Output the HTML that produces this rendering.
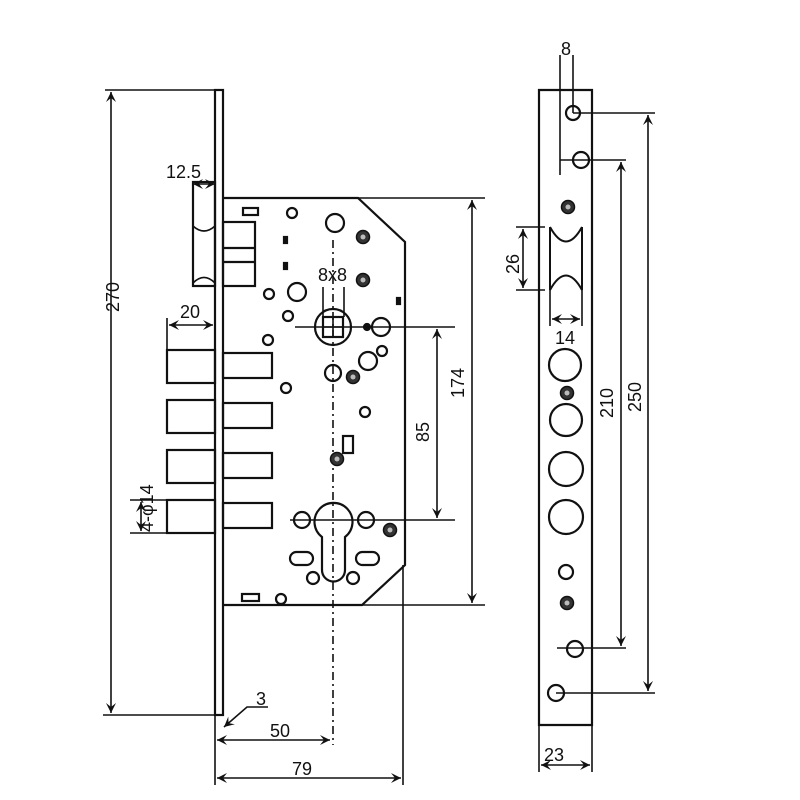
<!DOCTYPE html>
<html><head><meta charset="utf-8"><style>body{margin:0;background:#fff}svg{display:block}text{font-family:"Liberation Sans",sans-serif;font-size:18px;fill:#111}</style></head><body>
<svg width="800" height="800" viewBox="0 0 800 800" xmlns="http://www.w3.org/2000/svg">
<defs>
<marker id="a" viewBox="0 0 10 10" refX="10" refY="5" markerWidth="10" markerHeight="10" orient="auto-start-reverse" markerUnits="userSpaceOnUse"><path d="M0,0 L10,5 L0,10 L4,5 Z" fill="#111"/></marker>
<g id="st"><circle r="6.5" fill="#333" stroke="#111" stroke-width="1.5"/><circle r="2.5" fill="#bbb"/></g>
</defs>
<g fill="none" stroke="#111" stroke-width="2.2">
<rect x="215" y="90" width="8" height="625"/>
<path d="M223,198 H358 L405,242 V565 L362,605 H223"/>
<line x1="358" y1="198" x2="485" y2="198" stroke-width="1.6"/>
<line x1="362" y1="605" x2="485" y2="605" stroke-width="1.6"/>
<line x1="215" y1="715" x2="215" y2="785" stroke-width="1.6"/>
<line x1="403" y1="565" x2="403" y2="785" stroke-width="1.6"/>
<rect x="193" y="182" width="22" height="104"/>
<path d="M193,226 Q204,236 215,226 M193,283 Q204,272 215,283" stroke-width="1.6"/>
<rect x="223" y="222" width="32" height="64"/>
<line x1="223" y1="248" x2="255" y2="248"/><line x1="223" y1="262" x2="255" y2="262"/>
<rect x="243" y="208" width="15" height="7"/>
<rect x="167" y="350" width="48" height="33"/><rect x="223" y="353" width="49" height="25"/>
<rect x="167" y="400" width="48" height="33"/><rect x="223" y="403" width="49" height="25"/>
<rect x="167" y="450" width="48" height="33"/><rect x="223" y="453" width="49" height="25"/>
<rect x="167" y="500" width="48" height="33"/><rect x="223" y="503" width="49" height="25"/>
<line x1="167" y1="318" x2="167" y2="350" stroke-width="1.6"/>
<line x1="130" y1="500" x2="167" y2="500" stroke-width="1.6"/>
<line x1="130" y1="533" x2="167" y2="533" stroke-width="1.6"/>
<circle cx="292" cy="213" r="5"/><circle cx="335" cy="223" r="9"/>
<circle cx="269" cy="294" r="5"/><circle cx="297" cy="292" r="9"/><circle cx="288" cy="316" r="5"/>
<circle cx="268" cy="340" r="5"/><circle cx="382" cy="351" r="5"/><circle cx="368" cy="361" r="9"/>
<circle cx="333" cy="373" r="8"/><circle cx="286" cy="388" r="5"/><circle cx="365" cy="412" r="5"/>
<circle cx="381" cy="327" r="9"/><circle cx="367" cy="327" r="3" fill="#111"/>
<rect x="343" y="436" width="10" height="17"/>
<rect x="284" y="237" width="3" height="6" fill="#111"/><rect x="284" y="263" width="3" height="6" fill="#111"/>
<rect x="397" y="298" width="3" height="6" fill="#111"/>
<circle cx="333" cy="327" r="18"/><rect x="323" y="317" width="20" height="20"/>
<line x1="333" y1="317" x2="333" y2="337" stroke-width="1.6"/><line x1="323" y1="327" x2="343" y2="327" stroke-width="1.6"/>
<line x1="323" y1="287" x2="323" y2="317" stroke-width="1.6"/><line x1="344" y1="287" x2="344" y2="317" stroke-width="1.6"/>
<line x1="295" y1="327" x2="455" y2="327" stroke-width="1.6"/>
<path d="M322,537 A19,19 0 1 1 345,537 V570 A11.5,11.5 0 0 1 322,570 Z"/>
<circle cx="302" cy="520" r="8"/><circle cx="366" cy="520" r="8"/>
<rect x="290" y="552" width="23" height="13" rx="6.5"/><rect x="356" y="552" width="23" height="13" rx="6.5"/>
<circle cx="313" cy="578" r="6"/><circle cx="353" cy="578" r="6"/>
<line x1="290" y1="520" x2="455" y2="520" stroke-width="1.6"/>
<rect x="242" y="594" width="17" height="7"/><circle cx="281" cy="599" r="5"/>
<line x1="333" y1="240" x2="333" y2="745" stroke-width="1.6" stroke-dasharray="8,4,2,4"/>
<line x1="105" y1="90" x2="223" y2="90" stroke-width="1.6"/>
<line x1="103" y1="715" x2="218" y2="715" stroke-width="1.6"/>
<line x1="111" y1="92" x2="111" y2="713" stroke-width="1.6" marker-start="url(#a)" marker-end="url(#a)"/>
<line x1="193" y1="184" x2="215" y2="184" stroke-width="1.6" marker-start="url(#a)" marker-end="url(#a)"/>
<line x1="169" y1="325" x2="213" y2="325" stroke-width="1.6" marker-start="url(#a)" marker-end="url(#a)"/>
<line x1="141" y1="502" x2="141" y2="531" stroke-width="1.6" marker-start="url(#a)" marker-end="url(#a)"/>
<line x1="437" y1="329" x2="437" y2="518" stroke-width="1.6" marker-start="url(#a)" marker-end="url(#a)"/>
<line x1="472" y1="200" x2="472" y2="603" stroke-width="1.6" marker-start="url(#a)" marker-end="url(#a)"/>
<line x1="217" y1="740" x2="330" y2="740" stroke-width="1.6" marker-start="url(#a)" marker-end="url(#a)"/>
<line x1="217" y1="778" x2="401" y2="778" stroke-width="1.6" marker-start="url(#a)" marker-end="url(#a)"/>
<path d="M268,707 H247 L224,727" stroke-width="1.6" marker-end="url(#a)"/>
<path d="M539,725 V90 H592 V725 Z"/>
<line x1="539" y1="725" x2="539" y2="772" stroke-width="1.6"/><line x1="592" y1="725" x2="592" y2="772" stroke-width="1.6"/>
<line x1="541" y1="765" x2="590" y2="765" stroke-width="1.6" marker-start="url(#a)" marker-end="url(#a)"/>
<line x1="560" y1="55" x2="560" y2="175" stroke-width="1.6"/><line x1="573" y1="55" x2="573" y2="113" stroke-width="1.6"/>
<circle cx="573" cy="113" r="7"/><circle cx="581" cy="160" r="8"/>
<line x1="573" y1="113" x2="655" y2="113" stroke-width="1.6"/>
<line x1="560" y1="160" x2="626" y2="160" stroke-width="1.6"/>
<line x1="557" y1="648" x2="626" y2="648" stroke-width="1.6"/>
<line x1="556" y1="693" x2="655" y2="693" stroke-width="1.6"/>
<line x1="621" y1="162" x2="621" y2="646" stroke-width="1.6" marker-start="url(#a)" marker-end="url(#a)"/>
<line x1="648" y1="115" x2="648" y2="691" stroke-width="1.6" marker-start="url(#a)" marker-end="url(#a)"/>
<path d="M550,227 V290 M582,227 V290 M550,227 Q566,256 582,227 M550,290 Q566,261 582,290" stroke-width="2"/>
<line x1="516" y1="227" x2="545" y2="227" stroke-width="1.6"/><line x1="516" y1="290" x2="545" y2="290" stroke-width="1.6"/>
<line x1="523" y1="229" x2="523" y2="288" stroke-width="1.6" marker-start="url(#a)" marker-end="url(#a)"/>
<line x1="550" y1="290" x2="550" y2="326" stroke-width="1.6"/><line x1="582" y1="290" x2="582" y2="326" stroke-width="1.6"/>
<line x1="552" y1="319" x2="580" y2="319" stroke-width="1.6" marker-start="url(#a)" marker-end="url(#a)"/>
<circle cx="565" cy="365" r="16"/><circle cx="566" cy="420" r="16"/><circle cx="566" cy="469" r="17"/><circle cx="566" cy="517" r="17"/>
<circle cx="566" cy="572" r="7"/><circle cx="575" cy="649" r="8"/><circle cx="556" cy="693" r="8"/>
</g>
<use href="#st" x="363" y="237"/><use href="#st" x="363" y="280"/><use href="#st" x="353" y="377"/>
<use href="#st" x="337" y="459"/><use href="#st" x="390" y="530"/>
<use href="#st" x="568" y="207"/><use href="#st" x="567" y="393"/><use href="#st" x="567" y="603"/>
<text x="166" y="178">12.5</text>
<text x="180" y="318">20</text>
<text x="318" y="281">8x8</text>
<text x="256" y="705">3</text>
<text x="270" y="737">50</text>
<text x="292" y="775">79</text>
<text x="544" y="761">23</text>
<text x="561" y="55" font-size="16">8</text>
<text x="555" y="344">14</text>
<text transform="translate(119,312) rotate(-90)">270</text>
<text transform="translate(153,532) rotate(-90)" font-size="17">4-φ14</text>
<text transform="translate(429,442) rotate(-90)">85</text>
<text transform="translate(464,398) rotate(-90)">174</text>
<text transform="translate(519,274) rotate(-90)">26</text>
<text transform="translate(613,418) rotate(-90)">210</text>
<text transform="translate(641,412) rotate(-90)">250</text>
</svg>
</body></html>
